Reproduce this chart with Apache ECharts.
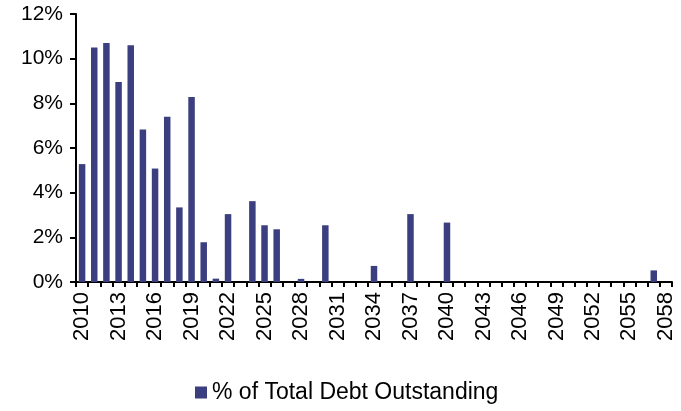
<!DOCTYPE html>
<html>
<head>
<meta charset="utf-8">
<script src="https://cdn.jsdelivr.net/npm/echarts@6/dist/echarts.min.js"></script>
<style>
  html, body { margin: 0; padding: 0; background: #ffffff; }
  #chart { width: 681px; height: 411px; }
</style>
</head>
<body>
<div id="chart"></div>
<script>
// Maturity years on the category axis
const years = [];
for (let y = 2010; y <= 2058; y++) years.push(String(y));

// Share of total debt outstanding maturing in each year (%)
const maturityYears = ['2010','2011','2012','2013','2014','2015','2016','2017','2018','2019','2020','2021','2022',
                       '2024','2025','2026','2028','2030','2034','2037','2040','2057'];
const maturityShares = [5.28, 10.5, 10.7, 8.95, 10.6, 6.83, 5.08, 7.4, 3.34, 8.28, 1.78, 0.15, 3.04,
                        3.62, 2.54, 2.36, 0.14, 2.54, 0.72, 3.04, 2.66, 0.52];

const seriesName = '% of Total Debt Outstanding';
const yTicks = [0, 2, 4, 6, 8, 10, 12];

const lookup = {};
maturityYears.forEach((y, i) => { lookup[y] = maturityShares[i]; });
const values = years.map(y => (y in lookup ? lookup[y] : 0));

const chart = echarts.init(document.getElementById('chart'), null, { renderer: 'canvas' });
const font = '"Liberation Sans", Arial, sans-serif';

chart.setOption({
  animation: false,
  backgroundColor: '#ffffff',
  grid: { left: 76, right: 9, top: 14, bottom: 129, containLabel: false },
  legend: {
    data: [seriesName],
    left: 195,
    top: 381,
    padding: 0,
    icon: 'rect',
    itemWidth: 12,
    itemHeight: 12,
    itemGap: 4,
    textStyle: { fontFamily: font, fontSize: 23, color: '#000000' }
  },
  xAxis: {
    type: 'category',
    data: years,
    boundaryGap: true,
    axisLine: { lineStyle: { color: '#000000', width: 2 } },
    axisTick: { show: true, interval: 0, length: 5, lineStyle: { color: '#000000', width: 2 } },
    axisLabel: {
      interval: 2,
      rotate: 90,
      margin: 10,
      fontFamily: font,
      fontSize: 22,
      color: '#000000'
    },
    splitLine: { show: false }
  },
  yAxis: {
    type: 'value',
    min: yTicks[0],
    max: yTicks[yTicks.length - 1],
    interval: 2,
    axisLine: { show: true, lineStyle: { color: '#000000', width: 2 } },
    axisTick: { show: true, length: 6, lineStyle: { color: '#000000', width: 2 } },
    axisLabel: {
      margin: 13,
      fontFamily: font,
      fontSize: 21,
      color: '#000000',
      formatter: v => v + '%'
    },
    splitLine: { show: false }
  },
  series: [{
    name: seriesName,
    type: 'bar',
    data: values,
    barWidth: 6.5,
    itemStyle: { color: '#3B3F7F' }
  }]
});
</script>
</body>
</html>
